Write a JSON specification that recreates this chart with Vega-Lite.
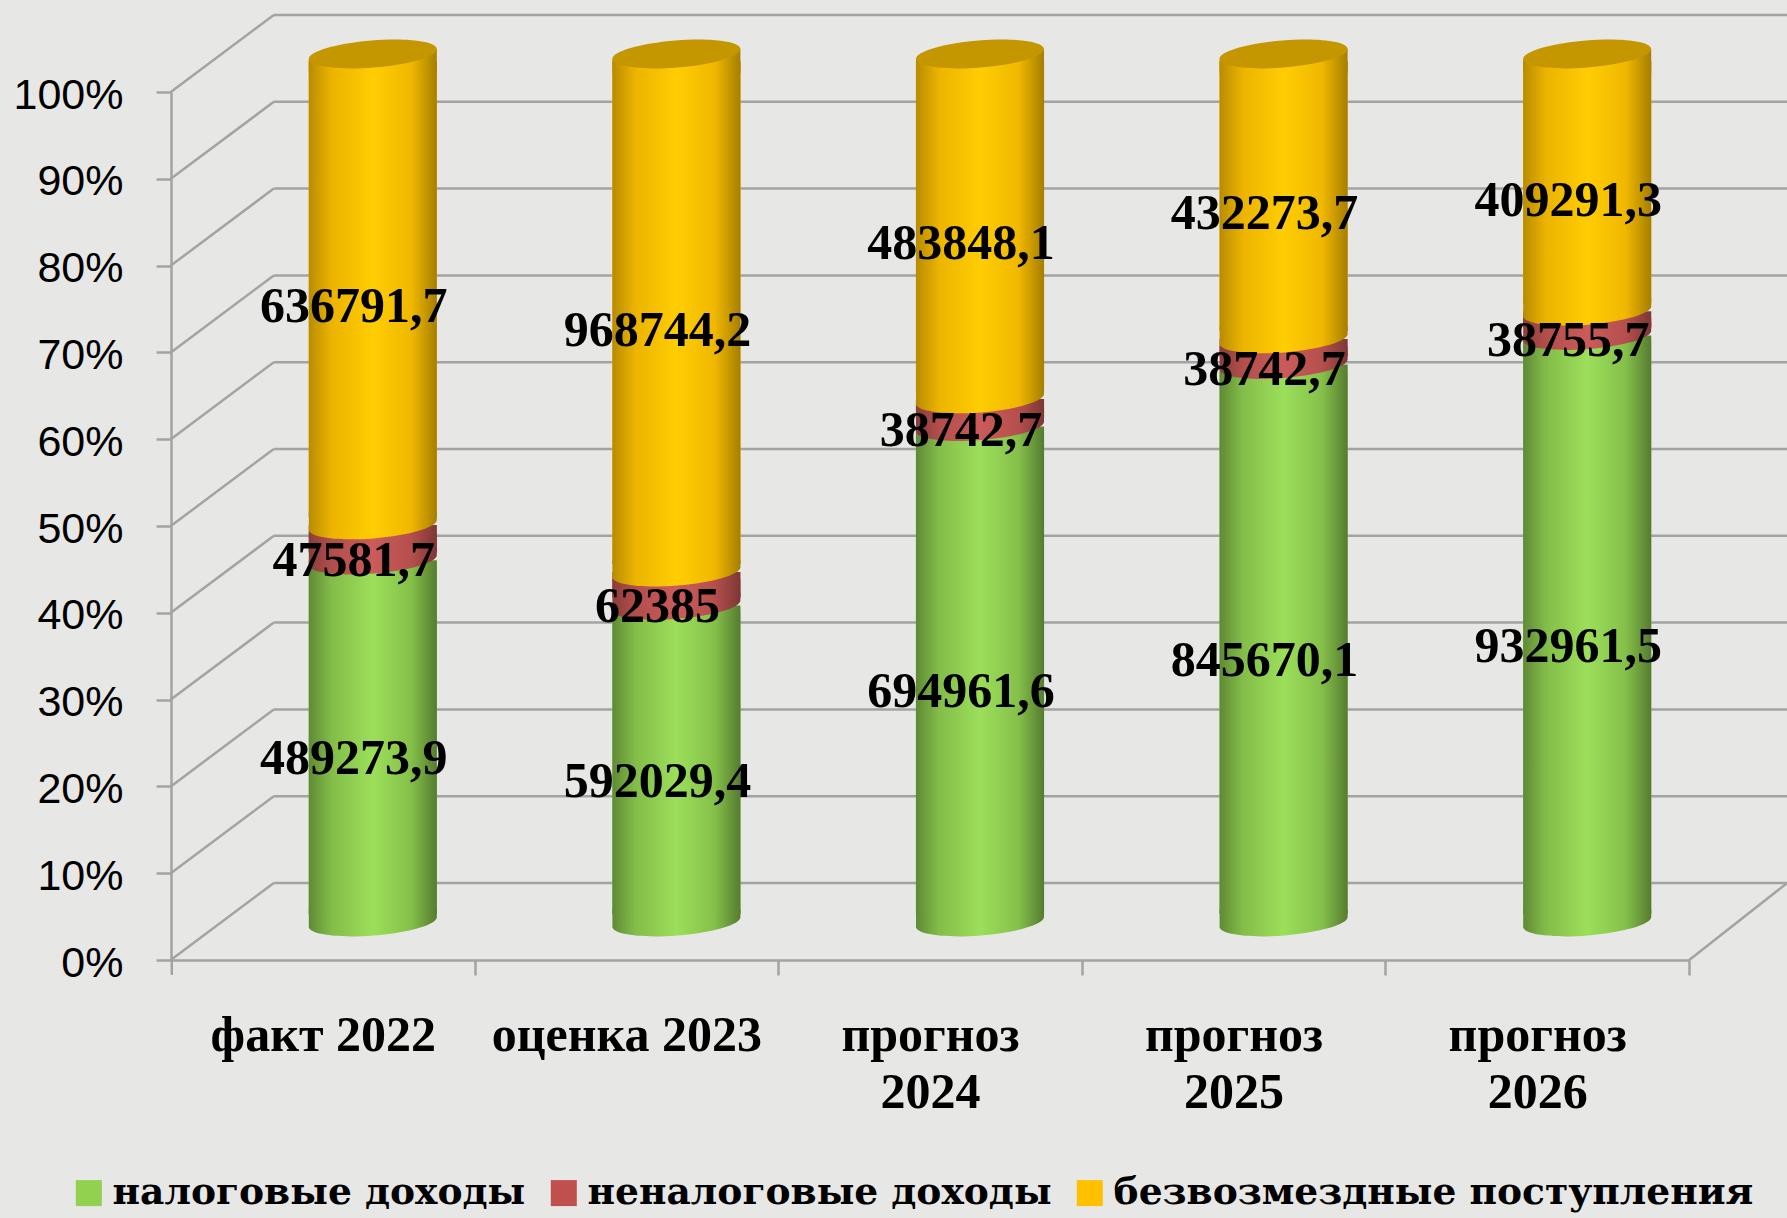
{
"$schema":"https://vega.github.io/schema/vega-lite/v6.json",
"width":1616,"height":946,
"autosize":{"type":"none"},
"padding":{"left":171,"top":14,"right":0,"bottom":258},
"background":"#e7e7e6",
"config":{"view":{"stroke":null}},
"datasets":{
"grid":[{"p":0},{"p":0.1},{"p":0.2},{"p":0.3},{"p":0.4},{"p":0.5},{"p":0.6},{"p":0.7},{"p":0.8},{"p":0.9},{"p":1}],
"rows":[
{"cat":"факт 2022","series":"налоговые доходы","order":1,"value":489273.9},
{"cat":"факт 2022","series":"неналоговые доходы","order":2,"value":47581.7},
{"cat":"факт 2022","series":"безвозмездные поступления","order":3,"value":636791.7},
{"cat":"оценка 2023","series":"налоговые доходы","order":1,"value":592029.4},
{"cat":"оценка 2023","series":"неналоговые доходы","order":2,"value":62385},
{"cat":"оценка 2023","series":"безвозмездные поступления","order":3,"value":968744.2},
{"cat":"прогноз 2024","series":"налоговые доходы","order":1,"value":694961.6},
{"cat":"прогноз 2024","series":"неналоговые доходы","order":2,"value":38742.7},
{"cat":"прогноз 2024","series":"безвозмездные поступления","order":3,"value":483848.1},
{"cat":"прогноз 2025","series":"налоговые доходы","order":1,"value":845670.1},
{"cat":"прогноз 2025","series":"неналоговые доходы","order":2,"value":38742.7},
{"cat":"прогноз 2025","series":"безвозмездные поступления","order":3,"value":432273.7},
{"cat":"прогноз 2026","series":"налоговые доходы","order":1,"value":932961.5},
{"cat":"прогноз 2026","series":"неналоговые доходы","order":2,"value":38755.7},
{"cat":"прогноз 2026","series":"безвозмездные поступления","order":3,"value":409291.3}
]},
"layer":[
{"data":{"name":"grid"},
 "mark":{"type":"rule","color":"#a3a3a3","strokeWidth":2.5,"yOffset":-77,"xOffset":-49,"x2Offset":250},
 "encoding":{
  "x":{"datum":"факт 2022","type":"nominal","title":null,
   "scale":{"type":"band","domain":["факт 2022","оценка 2023","прогноз 2024","прогноз 2025","прогноз 2026"],"range":[0,1518],"paddingInner":0.578,"paddingOuter":0.289},
   "axis":{"title":null,"labelAngle":0,"labelExpr":"split(replace(datum.label,'прогноз ','прогноз|'),'|')","labelFont":"Liberation Serif","labelFontWeight":"bold","labelFontSize":50,"labelColor":"#000000","labelLineHeight":57,"labelPadding":35,"labelLimit":500,"labelOverlap":false,"labelBaseline":"top","tickOffset":151.8,"labelOffset":-151.8,"tickSize":15,"tickWidth":2.5,"tickColor":"#a3a3a3","domainColor":"#a3a3a3","domainWidth":2.5}},
  "x2":{"datum":"прогноз 2026"},
  "y":{"field":"p","type":"quantitative","title":null,
   "scale":{"domain":[0,1],"range":[946,78],"nice":false,"zero":false},
   "axis":{"title":null,"values":[0,0.1,0.2,0.3,0.4,0.5,0.6,0.7,0.8,0.9,1],"format":".0%","grid":false,"labelFont":"Liberation Sans","labelFontSize":43,"labelColor":"#000000","labelPadding":33,"labelOffset":3,"tickSize":15,"tickWidth":2.5,"tickColor":"#a3a3a3","domainColor":"#a3a3a3","domainWidth":2.5}}
 }},
{"data":{"name":"grid"},
 "mark":{"type":"rule","color":"#a3a3a3","strokeWidth":2.5,"xOffset":-152,"x2Offset":-49,"y2Offset":-77},
 "encoding":{"x":{"datum":"факт 2022","type":"nominal","title":null},"x2":{"datum":"факт 2022"},"y":{"field":"p","type":"quantitative","title":null},"y2":{"field":"p"}}},
{"data":{"name":"grid"},"transform":[{"filter":"datum.p==0"}],
 "mark":{"type":"rule","color":"#a3a3a3","strokeWidth":2.5,"xOffset":152,"x2Offset":250,"y2Offset":-77},
 "encoding":{"x":{"datum":"прогноз 2026","type":"nominal","title":null},"x2":{"datum":"прогноз 2026"},"y":{"field":"p","type":"quantitative","title":null},"y2":{"field":"p"}}},
{"data":{"name":"grid"},"transform":[{"filter":"datum.p==0"}],
 "mark":{"type":"rule","color":"#a3a3a3","strokeWidth":2.5,"xOffset":-151,"y2Offset":15},
 "encoding":{"x":{"datum":"факт 2022","type":"nominal","title":null},"y":{"field":"p","type":"quantitative","title":null},"y2":{"field":"p"}}},
{"data":{"name":"rows"},
 "transform":[
  {"stack":"value","groupby":["cat"],"sort":[{"field":"order","order":"ascending"}],"offset":"normalize","as":["y0","y1"]},
  {"calculate":"(datum.y0+datum.y1)/2","as":"mid"},
  {"calculate":"replace(datum.value+'','.',',')","as":"label"}
 ],
 "layer":[
  {"mark":{"type":"bar","xOffset":50,"x2Offset":50,"yOffset":-31,"y2Offset":-46},
   "encoding":{"x":{"field":"cat","type":"nominal","title":null},"y":{"field":"y1","type":"quantitative","title":null},"y2":{"field":"y0"},
    "color":{"field":"series","type":"nominal","title":null,
     "scale":{"domain":["налоговые доходы","неналоговые доходы","безвозмездные поступления"],"range":["#92d050","#c0504d","#ffc000"]},
     "legend":{"orient":"none","legendX":-101,"legendY":1160,"direction":"horizontal","columns":3,"symbolType":"square","symbolSize":676,"symbolStrokeWidth":0,"labelFont":"DejaVu Serif","labelFontWeight":"bold","labelFontSize":37.6,"labelColor":"#000000","labelLimit":800,"labelOffset":5,"columnPadding":19,"title":null}}}},

  {"transform":[{"filter":"datum.order==1"}],
   "mark":{"type":"point","filled":true,"opacity":1,"size":16384,"xOffset":50,"yOffset":-38,"shape":"M-1,0.08 A1,0.21 -4.6 0 0 1,-0.08 L1,-0.2 L-1,-0.2 Z",
    "fill":{"gradient":"linear","x1":0,"y1":0,"x2":1,"y2":0,"stops":[{"offset":0,"color":"#5f8a35"},{"offset":0.18,"color":"#83bd49"},{"offset":0.5,"color":"#9cdf5a"},{"offset":0.8,"color":"#85c04a"},{"offset":1,"color":"#557c2f"}]}},
   "encoding":{"x":{"field":"cat","type":"nominal","title":null},"y":{"field":"y0","type":"quantitative","title":null}}},
  {"transform":[{"filter":"datum.order==1"}],
   "mark":{"type":"bar","xOffset":50,"x2Offset":50,"yOffset":-38,"y2Offset":-46,
    "fill":{"gradient":"linear","x1":0,"y1":0,"x2":1,"y2":0,"stops":[{"offset":0,"color":"#5f8a35"},{"offset":0.18,"color":"#83bd49"},{"offset":0.5,"color":"#9cdf5a"},{"offset":0.8,"color":"#85c04a"},{"offset":1,"color":"#557c2f"}]}},
   "encoding":{"x":{"field":"cat","type":"nominal","title":null},"y":{"field":"y1","type":"quantitative","title":null},"y2":{"field":"y0"}}},

  {"transform":[{"filter":"datum.order==2"}],
   "mark":{"type":"point","filled":true,"opacity":1,"size":16384,"xOffset":50,"yOffset":-38,"shape":"M-1,0.08 A1,0.21 -4.6 0 0 1,-0.08 L1,-0.2 L-1,-0.2 Z",
    "fill":{"gradient":"linear","x1":0,"y1":0,"x2":1,"y2":0,"stops":[{"offset":0,"color":"#8a3d3b"},{"offset":0.18,"color":"#b24e4c"},{"offset":0.5,"color":"#ca5c5a"},{"offset":0.8,"color":"#b54f4d"},{"offset":1,"color":"#7d3735"}]}},
   "encoding":{"x":{"field":"cat","type":"nominal","title":null},"y":{"field":"y0","type":"quantitative","title":null}}},
  {"transform":[{"filter":"datum.order==2"}],
   "mark":{"type":"bar","xOffset":50,"x2Offset":50,"yOffset":-38,"y2Offset":-46,
    "fill":{"gradient":"linear","x1":0,"y1":0,"x2":1,"y2":0,"stops":[{"offset":0,"color":"#8a3d3b"},{"offset":0.18,"color":"#b24e4c"},{"offset":0.5,"color":"#ca5c5a"},{"offset":0.8,"color":"#b54f4d"},{"offset":1,"color":"#7d3735"}]}},
   "encoding":{"x":{"field":"cat","type":"nominal","title":null},"y":{"field":"y1","type":"quantitative","title":null},"y2":{"field":"y0"}}},

  {"transform":[{"filter":"datum.order==3"}],
   "mark":{"type":"point","filled":true,"opacity":1,"size":16384,"xOffset":50,"yOffset":-38,"shape":"M-1,0.08 A1,0.21 -4.6 0 0 1,-0.08 L1,-0.2 L-1,-0.2 Z",
    "fill":{"gradient":"linear","x1":0,"y1":0,"x2":1,"y2":0,"stops":[{"offset":0,"color":"#b88c00"},{"offset":0.18,"color":"#ecb400"},{"offset":0.5,"color":"#ffcd03"},{"offset":0.8,"color":"#f0b800"},{"offset":1,"color":"#a67e00"}]}},
   "encoding":{"x":{"field":"cat","type":"nominal","title":null},"y":{"field":"y0","type":"quantitative","title":null}}},
  {"transform":[{"filter":"datum.order==3"}],
   "mark":{"type":"bar","xOffset":50,"x2Offset":50,"yOffset":-31,"y2Offset":-46,
    "fill":{"gradient":"linear","x1":0,"y1":0,"x2":1,"y2":0,"stops":[{"offset":0,"color":"#b88c00"},{"offset":0.18,"color":"#ecb400"},{"offset":0.5,"color":"#ffcd03"},{"offset":0.8,"color":"#f0b800"},{"offset":1,"color":"#a67e00"}]}},
   "encoding":{"x":{"field":"cat","type":"nominal","title":null},"y":{"field":"y1","type":"quantitative","title":null},"y2":{"field":"y0"}}},
  {"transform":[{"filter":"datum.order==3"}],
   "mark":{"type":"point","filled":true,"opacity":1,"size":16384,"xOffset":50,"yOffset":-38,"shape":"M-1,0.08 L1,-0.08 L1,0.3 L-1,0.3 Z",
    "fill":{"gradient":"linear","x1":0,"y1":0,"x2":1,"y2":0,"stops":[{"offset":0,"color":"#b88c00"},{"offset":0.18,"color":"#ecb400"},{"offset":0.5,"color":"#ffcd03"},{"offset":0.8,"color":"#f0b800"},{"offset":1,"color":"#a67e00"}]}},
   "encoding":{"x":{"field":"cat","type":"nominal","title":null},"y":{"field":"y1","type":"quantitative","title":null}}},
  {"transform":[{"filter":"datum.order==3"}],
   "mark":{"type":"point","filled":true,"opacity":1,"size":16384,"xOffset":50,"yOffset":-38,"shape":"M-1,0.08 A1,0.21 -4.6 1 0 1,-0.08 A1,0.21 -4.6 1 0 -1,0.08 Z","fill":"#c49600"},
   "encoding":{"x":{"field":"cat","type":"nominal","title":null},"y":{"field":"y1","type":"quantitative","title":null}}},

  {"mark":{"type":"text","font":"Liberation Serif","fontWeight":"bold","fontSize":50,"color":"#000000","xOffset":31,"yOffset":-20,"baseline":"middle","align":"center"},
   "encoding":{"x":{"field":"cat","type":"nominal","title":null},"y":{"field":"mid","type":"quantitative","title":null},"text":{"field":"label","type":"nominal"}}}
 ]}
]
}
